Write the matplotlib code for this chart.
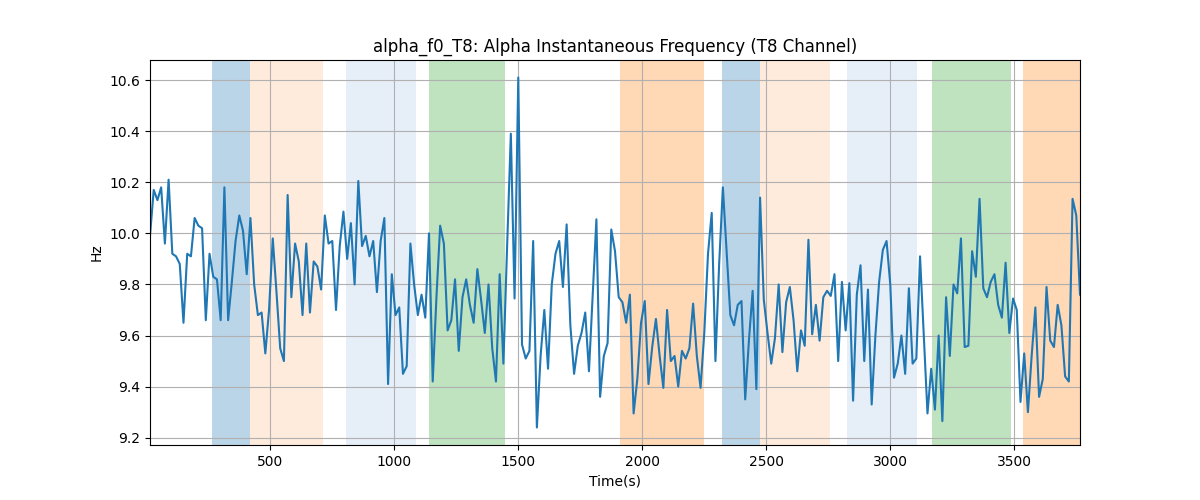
import numpy as np
import matplotlib
matplotlib.use("Agg")
import matplotlib.pyplot as plt

# time axis: one sample every 15 s
step = 15
freq = [
    9.99, 10.17, 10.13, 10.18, 9.96, 10.21, 9.92, 9.91, 9.88, 9.65,
    9.92, 9.91, 10.06, 10.03, 10.02, 9.66, 9.92, 9.83, 9.82, 9.66,
    10.18, 9.66, 9.81, 9.97, 10.07, 10.01, 9.84, 10.06, 9.80, 9.68,
    9.69, 9.53, 9.70, 9.98, 9.77, 9.55, 9.50, 10.15, 9.75, 9.96,
    9.89, 9.68, 9.96, 9.69, 9.89, 9.87, 9.78, 10.07, 9.96, 9.97,
    9.70, 9.95, 10.085, 9.90, 10.04, 9.80, 10.205, 9.95, 9.99, 9.91,
    9.97, 9.77, 9.97, 10.06, 9.41, 9.84, 9.68, 9.71, 9.45, 9.48,
    9.96, 9.80, 9.68, 9.76, 9.67, 10.00, 9.42, 9.75, 10.03, 9.96,
    9.62, 9.66, 9.82, 9.54, 9.75, 9.82, 9.72, 9.65, 9.86, 9.74,
    9.61, 9.80, 9.55, 9.42, 9.84, 9.49, 9.95, 10.39, 9.745, 10.61,
    9.565, 9.51, 9.54, 9.97, 9.24, 9.52, 9.70, 9.47, 9.80, 9.92,
    9.97, 9.79, 10.035, 9.64, 9.45, 9.56, 9.61, 9.69, 9.46, 9.76,
    10.055, 9.36, 9.52, 9.57, 10.015, 9.93, 9.75, 9.73, 9.65, 9.76,
    9.295, 9.43, 9.65, 9.735, 9.41, 9.555, 9.665, 9.52, 9.395, 9.70,
    9.50, 9.52, 9.40, 9.54, 9.51, 9.55, 9.725, 9.52, 9.395, 9.61,
    9.92, 10.08, 9.50, 9.88, 10.18, 9.93, 9.68, 9.64, 9.72, 9.735,
    9.35, 9.58, 9.775, 9.39, 10.14, 9.74, 9.61, 9.49, 9.59, 9.80,
    9.535, 9.73, 9.79, 9.66, 9.46, 9.62, 9.56, 9.975, 9.605, 9.72,
    9.58, 9.75, 9.775, 9.755, 9.84, 9.50, 9.81, 9.62, 9.805, 9.345,
    9.76, 9.875, 9.50, 9.78, 9.33, 9.60, 9.81, 9.935, 9.97, 9.80,
    9.435, 9.49, 9.60, 9.45, 9.785, 9.49, 9.51, 9.91, 9.60, 9.295,
    9.47, 9.31, 9.60, 9.265, 9.75, 9.52, 9.80, 9.765, 9.98, 9.555,
    9.56, 9.93, 9.83, 10.135, 9.785, 9.75, 9.81, 9.84, 9.72, 9.67,
    9.885, 9.61, 9.745, 9.70, 9.34, 9.53, 9.30, 9.52, 9.71, 9.36,
    9.43, 9.79, 9.58, 9.555, 9.72, 9.64, 9.44, 9.42, 10.135, 10.07,
    9.76,
]
times = np.arange(1, len(freq) + 1) * step

# shaded segments: (start, end, color, alpha)
span_start = [265, 419, 805, 1140, 1910, 2321, 2476, 2825, 3168, 3535]
span_end   = [419, 711, 1086, 1445, 2248, 2476, 2757, 3106, 3485, 3780]
span_color = ["C0", "C1", "#aec7e8", "C2", "C1", "C0", "C1", "#aec7e8", "C2", "C1"]
span_alpha = [0.3, 0.15, 0.3, 0.3, 0.3, 0.3, 0.15, 0.3, 0.3, 0.3]

fig, ax = plt.subplots(figsize=(12, 5), dpi=100)

for s, e, c, a in zip(span_start, span_end, span_color, span_alpha):
    ax.axvspan(s, e, color=c, alpha=a, linewidth=0)

ax.plot(times, freq, color="C0", linewidth=1.5)

ax.set_xlim(times[0], times[-1])
ax.set_title("alpha_f0_T8: Alpha Instantaneous Frequency (T8 Channel)")
ax.set_xlabel("Time(s)")
ax.set_ylabel("Hz")
ax.grid(True)

fig.savefig("out.png", dpi=100)
